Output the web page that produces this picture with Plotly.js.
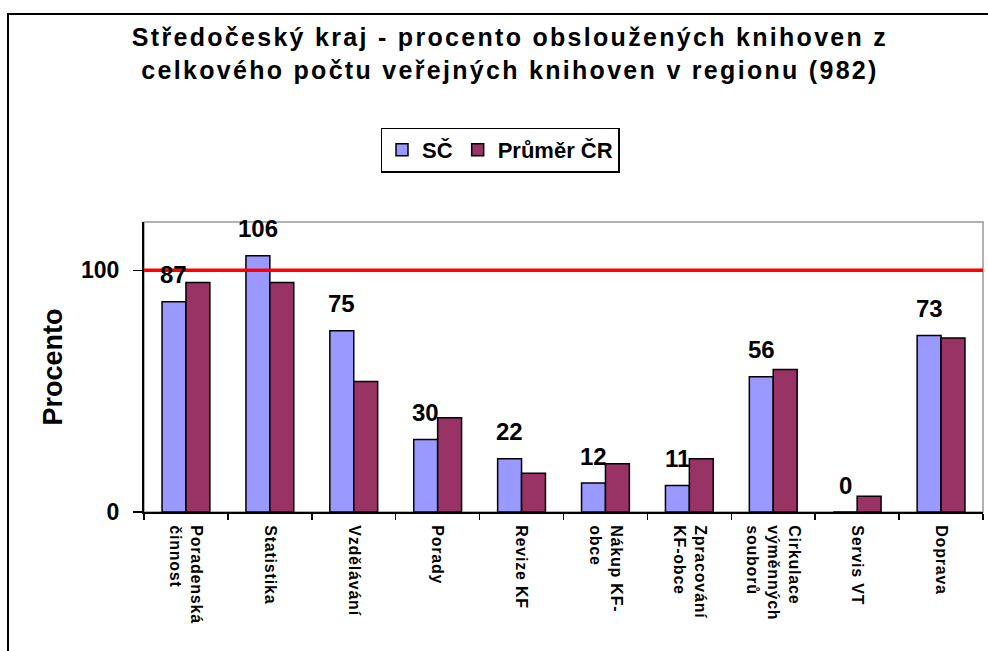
<!DOCTYPE html>
<html><head><meta charset="utf-8">
<script src="https://cdn.plot.ly/plotly-3.0.1.min.js"></script>
<style>
html,body{margin:0;padding:0;overflow:hidden;background:#fff}
#chart{width:988px;height:651px;position:absolute;left:0;top:0}
#frame{position:absolute;left:7px;top:13px;width:1100px;height:800px;border-left:2px solid #000;border-top:2px solid #000;pointer-events:none}
#chart .gtitle{letter-spacing:2.3px}
#chart .xtick text{letter-spacing:0.8px}
</style></head><body>
<div id="chart"></div><div id="frame"></div>
<script>
const categories = ["Poradenská<br>činnost","Statistika","Vzdělávání","Porady","Revize KF","Nákup KF-<br>obce","Zpracování<br>KF-obce","Cirkulace<br>výměnných<br>souborů","Servis VT","Doprava"];
const scValues = [87,106,75,30,22,12,11,56,0,73];
const crValues = [95,95,54,39,16,20,22,59,6.5,72];
const seriesNames = ["SČ","Průměr ČR"];
const referenceLevel = 100;
const yTickVals = [0,100];
const yTickText = ["0","100"];

const FONT = "Liberation Sans, Arial, sans-serif";

const traces = [
  {type:"bar", name:seriesNames[0], x:categories, y:scValues,
   marker:{color:"#9999FF", line:{color:"#000", width:1.5}}},
  {type:"bar", name:seriesNames[1], x:categories, y:crValues,
   marker:{color:"#993366", line:{color:"#000", width:1.5}}}
];

const annotations = scValues.map((v,i)=>({
  x:categories[i], y:v, xref:"x", yref:"y", text:String(v), showarrow:false,
  xshift:-12, yshift:27, yanchor:"middle",
  font:{family:FONT, size:24, color:"#000", weight:"bold"}
}));

const layout = {
  width:988, height:651,
  margin:{l:144, r:5, t:222, b:139},
  paper_bgcolor:"rgba(0,0,0,0)", plot_bgcolor:"#fff",
  font:{family:FONT, color:"#000"},
  title:{text:"Středočeský kraj - procento obsloužených knihoven z<br>celkového počtu veřejných knihoven v regionu (982)",
    x:510/988, xanchor:"center", xref:"container", y:1-46/651, yanchor:"top", yref:"container",
    font:{family:FONT, size:25, weight:"bold", color:"#000"}},
  barmode:"group", bargap:0.43, bargroupgap:0,
  showlegend:true,
  legend:{orientation:"h", x:(500-144)/839, xanchor:"center", y:(512-150)/290, yanchor:"middle",
    bordercolor:"#000", borderwidth:1.5, bgcolor:"#fff",
    font:{family:FONT, size:22, weight:"bold", color:"#000"}, itemwidth:30, tracegroupgap:0},
  xaxis:{type:"category", showline:true, linecolor:"#000", linewidth:2,
    ticks:"outside", tickson:"boundaries", ticklen:6, tickcolor:"#000", tickwidth:1.5,
    tickangle:90, ticklabelstandoff:8, tickfont:{family:FONT, size:16, weight:"bold", color:"#000"},
    showgrid:false, zeroline:false, fixedrange:true},
  yaxis:{range:[0,120], tickvals:yTickVals, ticktext:yTickText, showline:true, linecolor:"#000", linewidth:2,
    ticks:"outside", ticklen:9, tickcolor:"#000", tickwidth:1.5, ticklabelstandoff:9,
    tickfont:{family:FONT, size:23, weight:"bold", color:"#000"},
    showgrid:false, zeroline:false,
    title:{text:"Procento", standoff:11, font:{family:FONT, size:27, weight:"bold", color:"#000"}}},
  shapes:[
    {type:"rect", xref:"paper", yref:"paper", x0:0, x1:1, y0:0, y1:1, line:{color:"#999", width:1.5}, layer:"below"},
    {type:"line", xref:"paper", yref:"y", x0:0, x1:1, y0:referenceLevel, y1:referenceLevel, line:{color:"#FF0000", width:3.5}, layer:"above"}
  ],
  annotations:annotations
};

Plotly.newPlot("chart", traces, layout, {displayModeBar:false, staticPlot:true});
</script></body></html>
